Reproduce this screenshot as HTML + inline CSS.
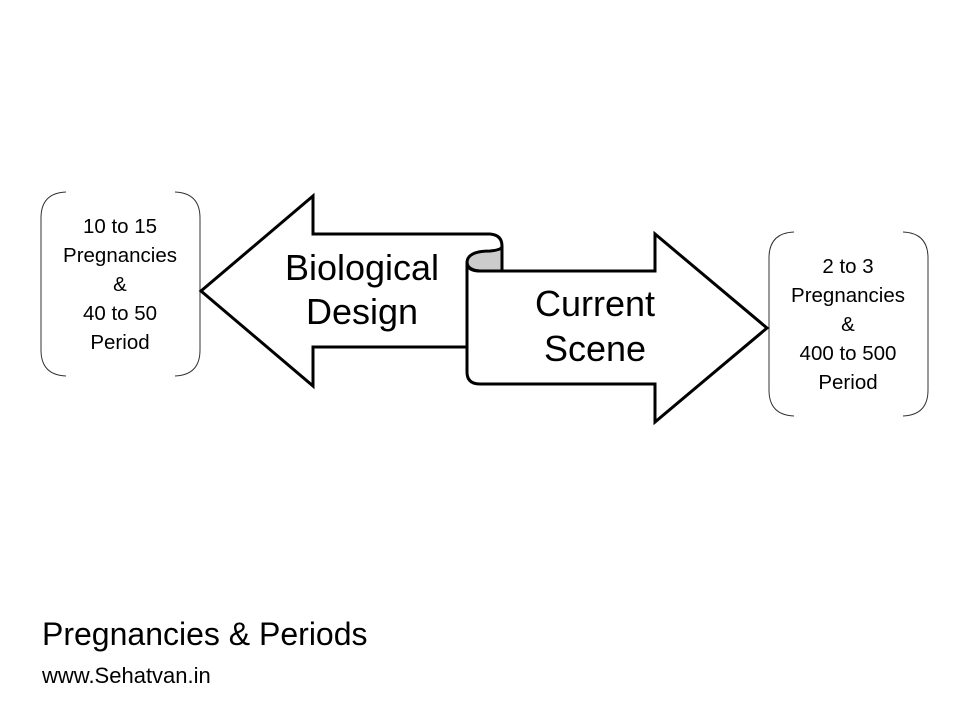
<!DOCTYPE html>
<html><head><style>
body{margin:0;width:960px;height:720px;background:#fff;overflow:hidden;position:relative;font-family:"Liberation Sans",Calibri,sans-serif}
.t{position:absolute;text-align:center;color:#000}
</style></head><body>
<svg width="960" height="720" style="position:absolute;left:0;top:0">
<g fill="none" stroke="#333" stroke-width="1">
<path d="M66,192 Q41,193 41,218 L41,350 Q41,375 66,376"/>
<path d="M175,192 Q200,193 200,218 L200,350 Q200,375 175,376"/>
<path d="M794,232 Q769,233 769,258 L769,390 Q769,415 794,416"/>
<path d="M903,232 Q928,233 928,258 L928,390 Q928,415 903,416"/>
</g>
<g stroke="#000" stroke-width="3" stroke-linejoin="miter" fill="#fff">
<path d="M467,347 L313,347 L313,386 L201,291 L313,196 L313,234 L490,234 Q502,235 502,246 L502,272"/>
<path d="M467,262 L467,372 Q467,384 480,384 L655,384 L655,422 L767,328 L655,234 L655,271 L502,271"/>
<path d="M467,262 Q468,251 490,251 Q502,250 502,246 L502,271 L480,271 Q467,270 467,262 Z" fill="#ccc"/>
<path d="M467,262 Q467,271 480,271 L502,271" fill="none"/>
</g>
</svg>
<div class="t" style="left:20px;top:212px;width:200px;font-size:20.5px;line-height:29px">10 to 15<br>Pregnancies<br>&amp;<br>40 to 50<br>Period</div>
<div class="t" style="left:748px;top:252px;width:200px;font-size:20.5px;line-height:29px">2 to 3<br>Pregnancies<br>&amp;<br>400 to 500<br>Period</div>
<div class="t" style="left:242px;top:246px;width:240px;font-size:36px;line-height:44px">Biological<br>Design</div>
<div class="t" style="left:475px;top:281px;width:240px;font-size:36px;line-height:45px">Current<br>Scene</div>
<div style="position:absolute;left:42px;top:616px;font-size:32px">Pregnancies &amp; Periods</div>
<div style="position:absolute;left:42px;top:663px;font-size:22px">www.Sehatvan.in</div>
</body></html>
